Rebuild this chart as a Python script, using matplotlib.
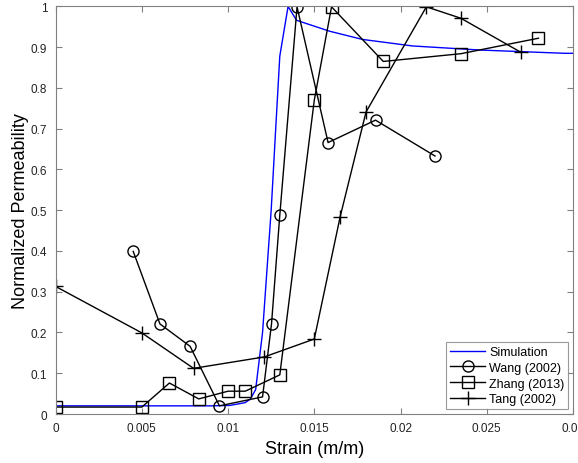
import numpy as np
import matplotlib
matplotlib.use("Agg")
import matplotlib.pyplot as plt
from matplotlib.ticker import FormatStrFormatter, MultipleLocator

plt.rcParams['font.family'] = ['Liberation Sans', 'DejaVu Sans']

# simulation curve
sim_x = [0, 0.005, 0.009, 0.0101, 0.011, 0.0113, 0.0116, 0.012, 0.0125,
         0.0128, 0.0130, 0.01348, 0.01397, 0.0159, 0.0178, 0.0207, 0.0246,
         0.0295, 0.030]
sim_y = [0.02, 0.02, 0.02, 0.021, 0.028, 0.037, 0.06, 0.20, 0.50,
         0.728, 0.878, 1.0, 0.966, 0.939, 0.919, 0.903, 0.893,
         0.885, 0.885]

# Wang (2002)
wang_x = [0.0045, 0.00605, 0.0078, 0.0095, 0.0120, 0.01252, 0.0130,
          0.0140, 0.0158, 0.01855, 0.0220]
wang_y = [0.399, 0.221, 0.166, 0.020, 0.042, 0.221, 0.488,
          0.999, 0.666, 0.721, 0.633]

# Zhang (2013)
zhang_x = [0.0, 0.005, 0.0066, 0.0083, 0.0100, 0.0110, 0.0130,
           0.0150, 0.0160, 0.0190, 0.0235, 0.0280]
zhang_y = [0.017, 0.017, 0.076, 0.037, 0.056, 0.056, 0.096,
           0.770, 0.999, 0.865, 0.884, 0.922]

# Tang (2002)
tang_x = [0.0, 0.005, 0.0080, 0.0121, 0.0150, 0.0165, 0.0180,
          0.0215, 0.0235, 0.0270]
tang_y = [0.313, 0.199, 0.112, 0.140, 0.184, 0.484, 0.741,
          0.999, 0.971, 0.887]

fig = plt.figure(figsize=(5.78, 4.64), dpi=100)
ax = fig.add_axes([0.0962, 0.1056, 0.9913 - 0.0962, 0.984 - 0.1056])

ax.plot(sim_x, sim_y, color='#0000ff', lw=1.0, label='Simulation')
ax.plot(wang_x, wang_y, color='k', lw=1.0, marker='o', ms=8, mfc='none',
        mec='k', mew=1.0, label='Wang (2002)')
ax.plot(zhang_x, zhang_y, color='k', lw=1.0, marker='s', ms=8, mfc='none',
        mec='k', mew=1.0, label='Zhang (2013)')
ax.plot(tang_x, tang_y, color='k', lw=1.0, marker='+', ms=10,
        mec='k', mew=1.0, label='Tang (2002)')

ax.set_xlim(0, 0.03)
ax.set_ylim(0, 1)
ax.xaxis.set_major_locator(MultipleLocator(0.005))
ax.yaxis.set_major_locator(MultipleLocator(0.1))
ax.xaxis.set_major_formatter(FormatStrFormatter('%g'))
ax.yaxis.set_major_formatter(FormatStrFormatter('%g'))
ax.tick_params(direction='in', top=True, right=True, length=4,
               labelsize=8.5, color='#808080', labelcolor='#222222', pad=6)
for s in ax.spines.values():
    s.set_color('#808080')

ax.set_xlabel('Strain (m/m)', fontsize=13)
ax.set_ylabel('Normalized Permeability', fontsize=13, labelpad=1)

leg = ax.legend(loc='lower right', fontsize=9, fancybox=False,
                edgecolor='#808080', handlelength=2.8, borderaxespad=0.4,
                labelspacing=0.3, borderpad=0.3, handletextpad=0.3)
leg.get_frame().set_linewidth(0.8)

fig.savefig('out.png', dpi=100)
